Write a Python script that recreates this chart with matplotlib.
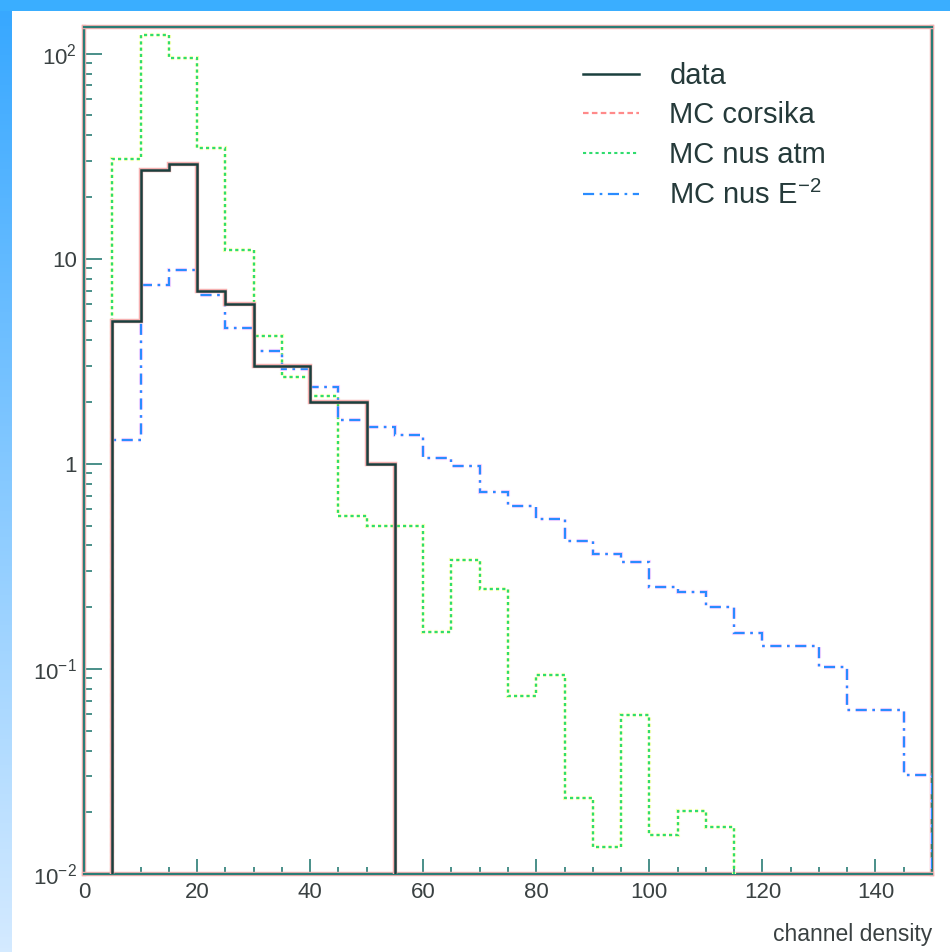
import numpy as np
import matplotlib.pyplot as plt
import matplotlib.patheffects as pe
from matplotlib.patches import Rectangle
from matplotlib.colors import LinearSegmentedColormap
from matplotlib.ticker import FixedLocator, MultipleLocator, NullFormatter

plt.rcParams['font.family'] = ['Liberation Sans', 'DejaVu Sans']
plt.rcParams['mathtext.default'] = 'regular'

# histogram binning: 5-unit bins starting at channel density 5
bin_start = 5
bin_width = 5

# data counts (bins 5-55)
data_counts = [5, 27, 29, 7, 6, 3, 3, 2, 2, 1]
# MC corsika: no entries in the plotted range (legend only)
corsika_counts = []
# MC atmospheric neutrinos (bins 5-115)
nus_atm = [30.5, 124, 95, 34.7, 11.0, 4.2, 2.65, 2.14, 0.557, 0.5, 0.5,
           0.151, 0.339, 0.245, 0.074, 0.093, 0.0234, 0.0136, 0.0598,
           0.0155, 0.0204, 0.017]
# MC neutrinos E^-2 (bins 5-150)
nus_e2 = [1.31, 7.43, 8.8, 6.68, 4.61, 3.57, 2.9, 2.38, 1.63, 1.52, 1.38,
          1.07, 0.98, 0.73, 0.62, 0.537, 0.42, 0.363, 0.334, 0.25, 0.236,
          0.20, 0.15, 0.129, 0.129, 0.102, 0.063, 0.063, 0.0305]

y_ticks = [0.01, 0.1, 1, 10, 100]
y_labels = ['$10^{-2}$', '$10^{-1}$', '1', '10', '$10^{2}$']
x_ticks = [0, 20, 40, 60, 80, 100, 120, 140]


def edges_for(vals):
    return bin_start + bin_width * np.arange(len(vals) + 1)


W, H = 950, 952
fig = plt.figure(figsize=(W / 100, H / 100), dpi=100)
fig.patch.set_facecolor('white')

# blue frame of the slide: solid band on top, gradient band on the left
fig.patches.append(Rectangle((0, 1 - 11 / H), 1, 11 / H, transform=fig.transFigure,
                             facecolor='#3aaeff', edgecolor='none', zorder=0))
grad_ax = fig.add_axes([0, 0, 12 / W, 1 - 11 / H])
grad_ax.imshow(np.linspace(0, 1, 256).reshape(-1, 1), aspect='auto',
               cmap=LinearSegmentedColormap.from_list('side', ['#38a8ff', '#d4eaff']))
grad_ax.set_axis_off()

left, right, top, bottom = 84, 932, 27, 874
ax = fig.add_axes([left / W, 1 - bottom / H, (right - left) / W, (bottom - top) / H])

halo_red = [pe.withStroke(linewidth=3.2, foreground='#f6b0b0')]
halo_yel = [pe.withStroke(linewidth=3.0, foreground='#f4ffb0')]
halo_mag = [pe.withStroke(linewidth=3.0, foreground='#ffd6ff')]

ax.stairs(nus_atm, edges_for(nus_atm), baseline=1e-5, color='#2fdc6e', lw=1.5,
          linestyle=(0, (1.5, 1.5)), path_effects=halo_yel, label='MC nus atm', zorder=3)
ax.stairs(nus_e2, edges_for(nus_e2), baseline=1e-5, color='#2a8cff', lw=1.6,
          linestyle=(0, (5, 2.5, 1.2, 2.5)), path_effects=halo_mag,
          label='MC nus E$^{-2}$', zorder=3)
ax.stairs(data_counts, edges_for(data_counts), baseline=1e-5, color='#1a403e', lw=1.8,
          path_effects=halo_red, label='data', zorder=4)
ax.plot([], [], color='#ff8a8a', lw=1.6, linestyle=(0, (2.5, 1.5)), label='MC corsika')

ax.set_yscale('log')
ax.set_xlim(0, 150)
ax.set_ylim(0.01, 135)

frame_col = '#2a7d76'
for sp in ax.spines.values():
    sp.set_color(frame_col)
    sp.set_linewidth(1.6)
    sp.set_path_effects(halo_red)

ax.yaxis.set_major_locator(FixedLocator(y_ticks))
ax.set_yticklabels(y_labels)
ax.yaxis.set_minor_locator(FixedLocator(
    [m * 10.0 ** e for e in range(-2, 2) for m in range(2, 10)]))
ax.yaxis.set_minor_formatter(NullFormatter())
ax.xaxis.set_major_locator(FixedLocator(x_ticks))
ax.xaxis.set_minor_locator(MultipleLocator(5))

txt_col = '#3a4142'
ax.tick_params(axis='y', which='major', direction='in', length=13, width=1.2,
               color=frame_col, pad=5, labelsize=16, labelcolor=txt_col)
ax.tick_params(axis='y', which='minor', direction='in', length=5.8, width=1.2,
               color=frame_col)
ax.tick_params(axis='x', which='major', direction='in', length=10.8, width=1.2,
               color=frame_col, pad=6, labelsize=16, labelcolor=txt_col)
ax.tick_params(axis='x', which='minor', direction='in', length=5, width=1.2,
               color=frame_col)

ax.text(1.0, -0.058, 'channel density', transform=ax.transAxes, ha='right',
        va='top', fontsize=16.5, color=txt_col)

handles, labels = ax.get_legend_handles_labels()
order = [labels.index(n) for n in ['data', 'MC corsika', 'MC nus atm', 'MC nus E$^{-2}$']]
leg = ax.legend([handles[i] for i in order], [labels[i] for i in order],
                loc='upper left', bbox_to_anchor=(0.558, 0.99), frameon=False,
                fontsize=21, handlelength=1.9, handletextpad=1.05, labelspacing=0.4)
for t in leg.get_texts():
    t.set_color('#253a3a')

fig.savefig('out.png', dpi=100)
